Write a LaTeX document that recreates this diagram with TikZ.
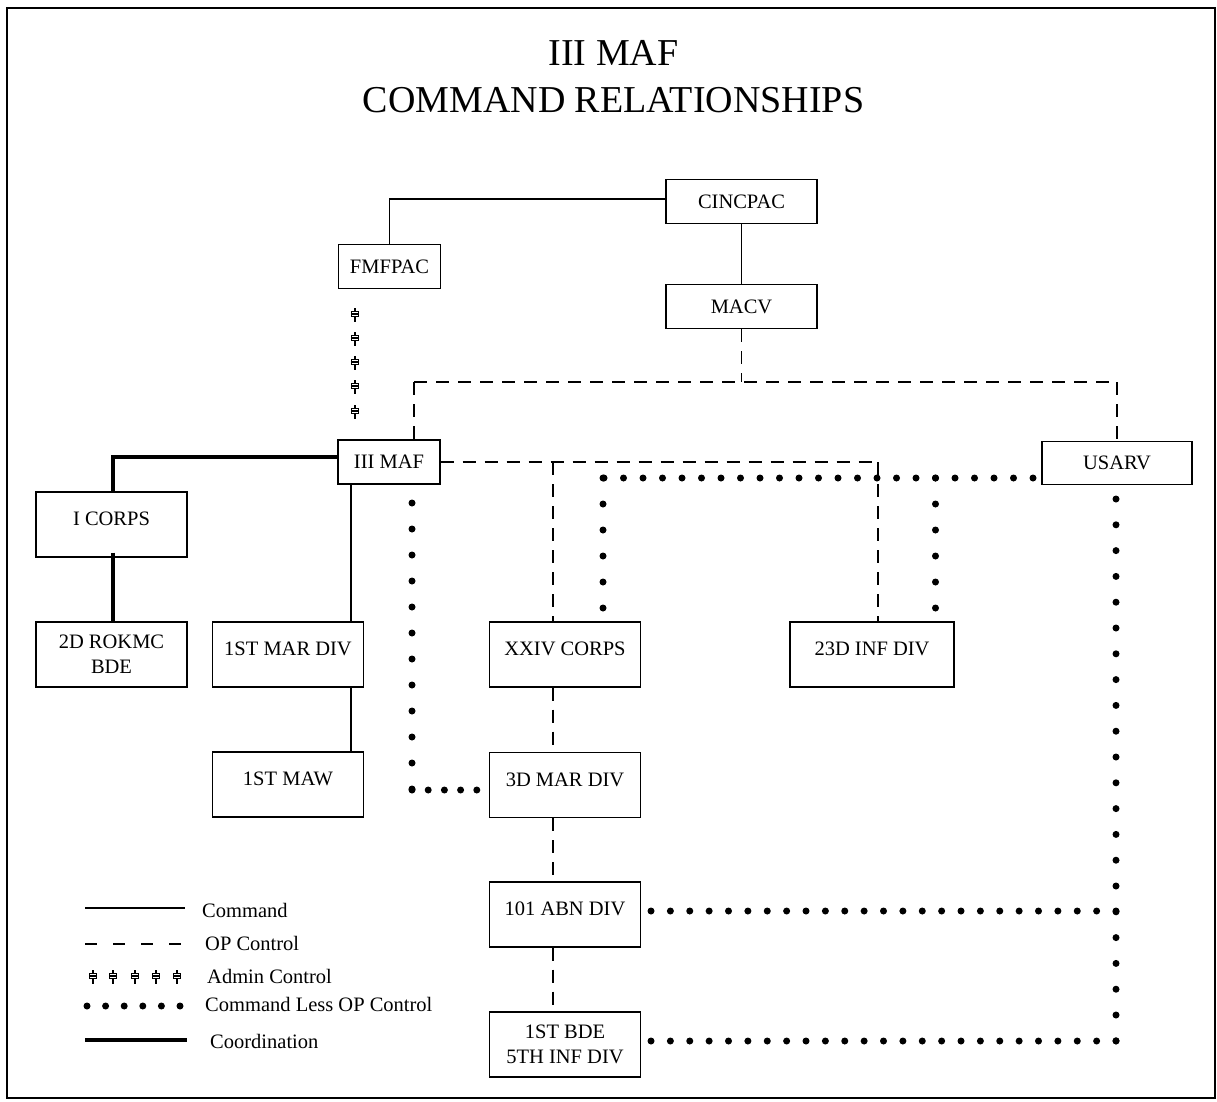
\documentclass[tikz,border=0pt]{standalone}
\usepackage{fontspec}
\setmainfont{Liberation Serif}
\usetikzlibrary{calc}
\begin{document}
\begin{tikzpicture}[x=1pt,y=-1pt,
  box/.style={draw,line width=1.3pt,inner sep=0pt,align=center,font=\fontsize{20.5}{25}\selectfont},
  bigbox/.style={box,minimum width=151pt,minimum height=65pt},
  raised/.style={text height=14pt,text depth=12pt},
  cmd/.style={line width=1.2pt},
  opc/.style={line width=1.2pt,dash pattern=on 13pt off 9pt},
  legopc/.style={line width=1.2pt,dash pattern=on 12pt off 16pt},
  coordln/.style={line width=4pt},
  cldot/.style={line width=7pt,line cap=round,dash pattern=on 0pt off #1},
  lg/.style={font=\fontsize{20.5}{24}\selectfont,anchor=west,inner sep=0pt},
  adminsym/.pic={
    \draw[line width=1.8pt] (0,-7)--(0,7);
    \draw[line width=1.4pt,fill=white] (-3.5,-3.5) rectangle (3.5,1.5);
    \draw[line width=1.4pt] (-3.5,-1)--(3.5,-1);
  }
]
\useasboundingbox (0,0) rectangle (1217,1101);
\draw[line width=2pt] (7,8) rectangle (1215,1098);

% title
\node[font=\fontsize{38}{40}\selectfont] (t1) at (613.5,53) {III MAF};
\node[font=\fontsize{38}{40}\selectfont] (t2) at (613.5,100) {COMMAND RELATIONSHIPS};

% boxes
\node[box,minimum width=151pt,minimum height=44pt] (cincpac) at (741.5,201.5) {CINCPAC};
\node[box,minimum width=102pt,minimum height=44pt] (fmfpac) at (389.5,266.5) {FMFPAC};
\node[box,minimum width=151pt,minimum height=44pt] (macv) at (741.5,306.5) {MACV};
\node[box,minimum width=102pt,minimum height=44pt] (maf) at (389,462) {III MAF};
\node[box,minimum width=150pt,minimum height=43pt] (usarv) at (1117,463) {USARV};
\node[bigbox,raised] (icorps) at (111.5,524.5) {I CORPS};
\node[bigbox] (rokmc) at (111.5,654.5) {2D ROKMC\\BDE};
\node[bigbox,raised] (mardiv1) at (288,654.5) {1ST MAR DIV};
\node[bigbox,raised] (maw) at (288,784.5) {1ST MAW};
\node[bigbox,raised] (xxiv) at (565,654.5) {XXIV CORPS};
\node[bigbox,raised,minimum width=164pt] (inf23) at (872,654.5) {23D INF DIV};
\node[bigbox,raised] (mardiv3) at (565,785) {3D MAR DIV};
\node[bigbox,raised] (abn) at (565,914.5) {101 ABN DIV};
\node[bigbox] (bde) at (565,1044.5) {1ST BDE\\5TH INF DIV};

% command lines
\draw[cmd] (cincpac.west |- 0,199) -| (fmfpac.north);
\draw[cmd] (cincpac) -- (macv);
\coordinate (mx) at (351,0);
\draw[cmd] (maf.south -| mx) -- (mardiv1.north -| mx);
\draw[cmd] (mardiv1.south -| mx) -- (maw.north -| mx);

% OP control
\coordinate (opL) at (414,382);
\coordinate (opR) at (1117,382);
\draw[opc] (macv.south) -- (macv.south |- opL);
\draw[opc] (opL) -- (opR);
\draw[opc] (opL) -- (maf.north -| opL);
\draw[opc] (opR) -- (usarv.north);
\coordinate (e1) at (553,462);
\coordinate (e2) at (878,462);
\draw[opc] (maf.east) -- (e2);
\draw[opc] (e1) -- (xxiv.north -| e1);
\draw[opc] (e2) -- (inf23.north -| e2);
\draw[opc] (xxiv.south -| e1) -- (mardiv3.north -| e1);
\draw[opc] (mardiv3.south -| e1) -- (abn.north -| e1);
\draw[opc] (abn.south -| e1) -- (bde.north -| e1);

% coordination
\coordinate (k) at (113,457);
\draw[coordln] (maf.west |- k) -- (k) -- (icorps.north -| k);
\draw[coordln] ([yshift=5pt]icorps.south -| k) -- ([yshift=-2pt]rokmc.north -| k);

% admin control
\foreach \yy in {315,339,363,387,412} \pic at (355,\yy) {adminsym};

% command less OP control
\coordinate (d1) at (412,503);
\coordinate (d2) at (412,790);
\draw[cldot=26pt] (d1) -- (d2);
\draw[cldot=16.2pt] (d2) -- (mardiv3.west |- d2);
\coordinate (h1) at (1033,478);
\coordinate (h2) at (603,478);
\coordinate (h3) at (935.5,478);
\draw[cldot=19.5pt] (h1) -- (h2);
\draw[cldot=26pt] (h2) -- (xxiv.north -| h2);
\draw[cldot=26pt] (h3) -- (inf23.north -| h3);
\coordinate (v1) at (1116,499);
\coordinate (v2) at (1116,1041);
\coordinate (v3) at (1116,911);
\draw[cldot=25.8pt] (v1) -- (v2);
\draw[cldot=19.375pt] (v3) -- (abn.east |- v3);
\draw[cldot=19.375pt] (v2) -- (bde.east |- v2);

% legend
\draw[cmd] (85,908) -- (185,908);
\node[lg] (l1) at (202,910) {Command};
\draw[legopc] (85,944) -- (185,944);
\node[lg] (l2) at (205,943) {OP Control};
\foreach \xx in {93,113,135,156,177} \pic at (\xx,977) {adminsym};
\node[lg] (l3) at (207,976) {Admin Control};
\draw[cldot=18.6pt] (87,1006) -- (181,1006);
\node[lg] (l4) at (205,1004) {Command Less OP Control};
\draw[coordln] (85,1040) -- (187,1040);
\node[lg] (l5) at (210,1041) {Coordination};
\end{tikzpicture}
\end{document}
